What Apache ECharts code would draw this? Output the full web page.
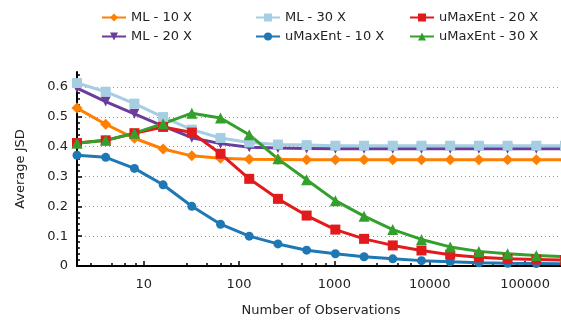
<!DOCTYPE html>
<html>
<head>
<meta charset="utf-8">
<script src="https://cdn.jsdelivr.net/npm/echarts@6/dist/echarts.min.js"></script>
<style>
    html, body { margin: 0; padding: 0; background: #fff; }
    #jsd-chart { width: 561px; height: 323px; }
</style>
</head>
<body>
<div id="jsd-chart"></div>
<script>
    // number of observations: 2^1 .. 2^18
    var observations = [2, 4, 8, 16, 32, 64, 128, 256, 512, 1024, 2048, 4096, 8192, 16384, 32768, 65536, 131072, 262144];

    var ml10 = [0.529, 0.475, 0.428, 0.392, 0.369, 0.361, 0.358, 0.357, 0.356, 0.356, 0.356, 0.356, 0.356, 0.356, 0.356, 0.356, 0.356, 0.356];
    var ml20 = [0.596, 0.551, 0.510, 0.469, 0.430, 0.410, 0.398, 0.395, 0.394, 0.393, 0.393, 0.393, 0.393, 0.393, 0.393, 0.393, 0.393, 0.393];
    var ml30 = [0.613, 0.584, 0.544, 0.499, 0.457, 0.429, 0.414, 0.407, 0.405, 0.403, 0.403, 0.403, 0.403, 0.403, 0.403, 0.403, 0.403, 0.403];
    var ume10 = [0.371, 0.364, 0.327, 0.272, 0.200, 0.140, 0.100, 0.074, 0.053, 0.041, 0.031, 0.024, 0.018, 0.014, 0.011, 0.009, 0.008, 0.007];
    var ume20 = [0.412, 0.421, 0.445, 0.466, 0.447, 0.376, 0.292, 0.225, 0.169, 0.122, 0.091, 0.069, 0.052, 0.038, 0.029, 0.024, 0.022, 0.020];
    var ume30 = [0.411, 0.421, 0.445, 0.477, 0.512, 0.496, 0.440, 0.359, 0.289, 0.219, 0.167, 0.122, 0.089, 0.064, 0.049, 0.041, 0.035, 0.031];

    var xMajorTicks = [10, 100, 1000, 10000, 100000];
    var xMinorTicks = [2.8, 4.6, 6.4, 8.2, 28, 46, 64, 82, 280, 460, 640, 820, 2800, 4600, 6400, 8200,
        28000, 46000, 64000, 82000, 280000];
    var yTicks = [0, 0.1, 0.2, 0.3, 0.4, 0.5, 0.6];

    var font = "DejaVu Sans";
    var ink = "#222";

    function pairs(ys) {
        return observations.map(function (x, i) { return [x, ys[i]]; });
    }

    function line(name, ys, color, symbol, size, rotate) {
        return {
            name: name,
            type: 'line',
            data: pairs(ys),
            symbol: symbol,
            symbolSize: size,
            symbolRotate: rotate || 0,
            lineStyle: { color: color, width: 3 },
            itemStyle: { color: color },
            emphasis: { disabled: true }
        };
    }

    function legendCol(left, names) {
        return {
            orient: 'vertical',
            left: left,
            top: 6,
            itemWidth: 24,
            itemHeight: 10,
            itemGap: 6,
            textStyle: { fontFamily: font, fontSize: 13, color: ink },
            data: names
        };
    }

    var myChart = echarts.init(document.getElementById("jsd-chart"));
    var options = {
        animation: false,
        textStyle: { fontFamily: font },
        legend: [
            legendCol(96, ['ML - 10 X', 'ML - 20 X']),
            legendCol(250, ['ML - 30 X', 'uMaxEnt - 10 X']),
            legendCol(404, ['uMaxEnt - 20 X', 'uMaxEnt - 30 X'])
        ],
        grid: { left: 77, right: -4, top: 72, bottom: 57, outerBoundsMode: 'none' },
        xAxis: [{
            type: 'log',
            logBase: 10,
            min: 2,
            max: 262144,
            name: 'Number of Observations',
            nameLocation: 'middle',
            nameGap: 38,
            nameTextStyle: { fontFamily: font, fontSize: 13, color: ink },
            axisLine: { lineStyle: { color: '#000', width: 2 } },
            axisTick: { inside: true, length: 5, lineStyle: { color: '#000', width: 1.5 }, customValues: xMajorTicks },
            axisLabel: {
                fontFamily: font, fontSize: 13, color: ink, margin: 12, customValues: xMajorTicks,
                formatter: function (v) { return String(v); }
            },
            splitLine: { show: false }
        }, {
            type: 'log',
            logBase: 10,
            min: 2,
            max: 262144,
            position: 'bottom',
            axisLine: { show: false },
            axisTick: { inside: true, length: 3, lineStyle: { color: '#000', width: 1.5 }, customValues: xMinorTicks },
            axisLabel: { show: false },
            splitLine: { show: false }
        }],
        yAxis: {
            type: 'value',
            min: 0,
            max: 0.65,
            interval: 0.1,
            name: 'Average JSD',
            nameLocation: 'middle',
            nameGap: 50,
            nameTextStyle: { fontFamily: font, fontSize: 13, color: ink },
            axisLine: { show: true, lineStyle: { color: '#000', width: 2 } },
            axisTick: { inside: true, length: 5, lineStyle: { color: '#000', width: 1.5 }, customValues: yTicks },
            minorTick: { show: true, splitNumber: 5, length: 3, lineStyle: { color: '#000', width: 1.5 } },
            axisLabel: { fontFamily: font, fontSize: 13, color: ink, margin: 9, customValues: yTicks },
            splitLine: { show: true, lineStyle: { color: '#999', width: 1, type: [1, 3] } }
        },
        series: [
            line('ML - 10 X', ml10, '#ff7f00', 'diamond', 11),
            line('ML - 20 X', ml20, '#6a3d9a', 'triangle', 10, 180),
            line('ML - 30 X', ml30, '#a6cee3', 'rect', 10),
            line('uMaxEnt - 10 X', ume10, '#1f78b4', 'circle', 9),
            line('uMaxEnt - 20 X', ume20, '#e31a1c', 'rect', 10),
            line('uMaxEnt - 30 X', ume30, '#33a02c', 'triangle', 11)
        ]
    };
    myChart.setOption(options);
</script>
</body>
</html>
